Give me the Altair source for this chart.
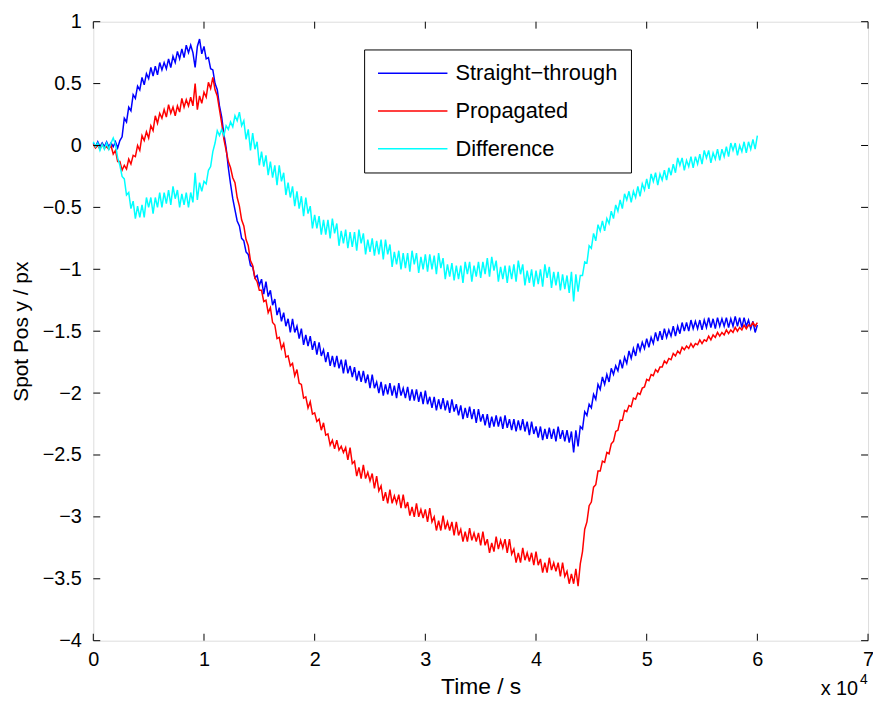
import altair as alt
import pandas as pd

# time grid in units of 1e4 s
time = [round(0.02 * i, 2) for i in range(301)]

straight = [
    0.02, -0.01, 0.03, -0.01, 0.02, -0.01, 0.03, -0.01, 0.02, -0.01,
    0.03, -0.02, 0.04, 0.07, 0.22, 0.19, 0.31, 0.28, 0.41, 0.38,
    0.48, 0.45, 0.55, 0.49, 0.58, 0.54, 0.63, 0.56, 0.64, 0.57,
    0.67, 0.61, 0.67, 0.62, 0.70, 0.63, 0.72, 0.67, 0.76, 0.70,
    0.78, 0.71, 0.81, 0.75, 0.81, 0.75, 0.63, 0.80, 0.86, 0.74,
    0.80, 0.70, 0.71, 0.62, 0.61, 0.50, 0.45, 0.32, 0.23, 0.09,
    -0.02, -0.18, -0.31, -0.43, -0.52, -0.61, -0.65, -0.75, -0.77, -0.86,
    -0.88, -0.97, -0.98, -1.07, -1.05, -1.13, -1.08, -1.20, -1.10, -1.22,
    -1.17, -1.29, -1.24, -1.37, -1.31, -1.42, -1.35, -1.46, -1.40, -1.51,
    -1.40, -1.51, -1.46, -1.56, -1.48, -1.61, -1.53, -1.62, -1.54, -1.65,
    -1.58, -1.69, -1.59, -1.70, -1.65, -1.75, -1.67, -1.78, -1.70, -1.79,
    -1.70, -1.80, -1.73, -1.84, -1.73, -1.84, -1.78, -1.87, -1.79, -1.90,
    -1.82, -1.91, -1.82, -1.92, -1.85, -1.96, -1.85, -1.96, -1.91, -2.00,
    -1.91, -2.02, -1.93, -2.01, -1.92, -2.02, -1.94, -2.04, -1.92, -2.02,
    -1.96, -2.04, -1.95, -2.06, -1.97, -2.06, -1.97, -2.07, -1.99, -2.09,
    -1.98, -2.09, -2.03, -2.12, -2.03, -2.14, -2.05, -2.13, -2.04, -2.14,
    -2.06, -2.16, -2.05, -2.15, -2.09, -2.18, -2.10, -2.21, -2.12, -2.20,
    -2.11, -2.21, -2.13, -2.24, -2.13, -2.23, -2.17, -2.26, -2.17, -2.28,
    -2.19, -2.27, -2.18, -2.27, -2.19, -2.29, -2.18, -2.28, -2.21, -2.30,
    -2.21, -2.31, -2.22, -2.30, -2.21, -2.31, -2.23, -2.34, -2.23, -2.33,
    -2.27, -2.36, -2.27, -2.38, -2.29, -2.37, -2.28, -2.37, -2.29, -2.39,
    -2.27, -2.37, -2.30, -2.39, -2.30, -2.40, -2.31, -2.48, -2.30, -2.43,
    -2.27, -2.29, -2.15, -2.18, -2.09, -2.12, -2.01, -2.05, -1.93, -1.97,
    -1.87, -1.93, -1.85, -1.91, -1.80, -1.85, -1.78, -1.82, -1.73, -1.80,
    -1.71, -1.76, -1.66, -1.72, -1.64, -1.70, -1.60, -1.66, -1.59, -1.64,
    -1.56, -1.63, -1.55, -1.60, -1.51, -1.58, -1.50, -1.57, -1.48, -1.55,
    -1.49, -1.54, -1.46, -1.54, -1.46, -1.52, -1.43, -1.50, -1.43, -1.50,
    -1.41, -1.48, -1.42, -1.48, -1.41, -1.49, -1.41, -1.47, -1.39, -1.47,
    -1.40, -1.48, -1.39, -1.46, -1.40, -1.46, -1.39, -1.47, -1.40, -1.46,
    -1.38, -1.46, -1.39, -1.47, -1.39, -1.46, -1.41, -1.48, -1.42, -1.51,
    -1.45,
]

propagated = [
    0.01, -0.02, 0.00, -0.03, 0.01, -0.02, -0.01, -0.03, 0.00, -0.07,
    -0.04, -0.13, -0.13, -0.20, -0.16, -0.19, -0.11, -0.15, -0.08, -0.09,
    0.00, -0.04, 0.08, 0.04, 0.11, 0.06, 0.16, 0.12, 0.24, 0.18,
    0.26, 0.22, 0.29, 0.23, 0.33, 0.26, 0.31, 0.24, 0.32, 0.27,
    0.38, 0.31, 0.37, 0.32, 0.39, 0.32, 0.50, 0.29, 0.40, 0.34,
    0.43, 0.39, 0.51, 0.46, 0.55, 0.45, 0.40, 0.29, 0.18, 0.05,
    -0.04, -0.13, -0.18, -0.26, -0.30, -0.42, -0.49, -0.60, -0.65, -0.76,
    -0.81, -0.93, -0.97, -1.07, -1.10, -1.17, -1.17, -1.26, -1.25, -1.35,
    -1.31, -1.43, -1.45, -1.56, -1.55, -1.64, -1.60, -1.71, -1.70, -1.78,
    -1.76, -1.86, -1.81, -1.92, -1.93, -2.04, -2.03, -2.12, -2.07, -2.17,
    -2.16, -2.23, -2.21, -2.30, -2.24, -2.34, -2.33, -2.42, -2.38, -2.45,
    -2.38, -2.46, -2.43, -2.48, -2.44, -2.54, -2.44, -2.57, -2.55, -2.67,
    -2.60, -2.69, -2.58, -2.69, -2.64, -2.71, -2.65, -2.77, -2.67, -2.79,
    -2.75, -2.87, -2.80, -2.89, -2.78, -2.89, -2.83, -2.89, -2.82, -2.93,
    -2.82, -2.93, -2.88, -2.99, -2.92, -3.00, -2.89, -3.00, -2.94, -3.01,
    -2.94, -3.04, -2.93, -3.04, -3.00, -3.11, -3.03, -3.11, -2.99, -3.10,
    -3.04, -3.11, -3.04, -3.15, -3.04, -3.15, -3.10, -3.20, -3.12, -3.20,
    -3.09, -3.19, -3.13, -3.20, -3.13, -3.23, -3.12, -3.23, -3.18, -3.29,
    -3.21, -3.28, -3.16, -3.26, -3.19, -3.25, -3.18, -3.29, -3.18, -3.30,
    -3.26, -3.37, -3.29, -3.37, -3.25, -3.35, -3.29, -3.36, -3.29, -3.39,
    -3.28, -3.39, -3.34, -3.45, -3.37, -3.45, -3.33, -3.43, -3.37, -3.44,
    -3.37, -3.48, -3.37, -3.48, -3.44, -3.54, -3.46, -3.54, -3.42, -3.56,
    -3.38, -3.28, -3.10, -3.04, -2.91, -2.88, -2.76, -2.74, -2.63, -2.63,
    -2.55, -2.56, -2.48, -2.49, -2.41, -2.39, -2.31, -2.30, -2.22, -2.22,
    -2.14, -2.15, -2.10, -2.11, -2.04, -2.05, -2.00, -2.01, -1.96, -1.95,
    -1.89, -1.90, -1.85, -1.86, -1.81, -1.83, -1.79, -1.79, -1.74, -1.76,
    -1.72, -1.73, -1.68, -1.70, -1.66, -1.68, -1.63, -1.65, -1.62, -1.64,
    -1.60, -1.63, -1.60, -1.61, -1.57, -1.60, -1.57, -1.58, -1.54, -1.57,
    -1.53, -1.55, -1.51, -1.54, -1.51, -1.53, -1.49, -1.52, -1.49, -1.51,
    -1.47, -1.50, -1.47, -1.49, -1.45, -1.48, -1.45, -1.46, -1.43, -1.46,
    -1.43,
]

difference = [
    0.03, -0.01, 0.02, -0.04, 0.01, -0.03, 0.02, -0.03, 0.02, 0.06,
    0.01, -0.10, -0.16, -0.25, -0.27, -0.40, -0.38, -0.51, -0.45, -0.59,
    -0.49, -0.58, -0.48, -0.58, -0.42, -0.50, -0.42, -0.55, -0.42, -0.50,
    -0.38, -0.50, -0.38, -0.47, -0.36, -0.48, -0.33, -0.43, -0.36, -0.50,
    -0.39, -0.48, -0.38, -0.50, -0.38, -0.46, -0.22, -0.44, -0.30, -0.37,
    -0.29, -0.31, -0.20, -0.17, -0.05, 0.02, 0.12, 0.08, 0.13, 0.08,
    0.16, 0.13, 0.19, 0.15, 0.24, 0.20, 0.27, 0.16, 0.20, 0.05,
    0.13, -0.04, 0.10, -0.03, 0.03, -0.16, -0.05, -0.17, -0.08, -0.24,
    -0.13, -0.26, -0.16, -0.32, -0.16, -0.29, -0.22, -0.40, -0.30, -0.42,
    -0.33, -0.49, -0.37, -0.51, -0.41, -0.57, -0.42, -0.55, -0.49, -0.67,
    -0.56, -0.67, -0.57, -0.72, -0.60, -0.72, -0.60, -0.75, -0.59, -0.71,
    -0.63, -0.81, -0.69, -0.79, -0.68, -0.83, -0.70, -0.82, -0.70, -0.85,
    -0.68, -0.79, -0.71, -0.88, -0.76, -0.86, -0.75, -0.89, -0.77, -0.88,
    -0.76, -0.92, -0.76, -0.88, -0.80, -0.98, -0.86, -0.96, -0.85, -1.00,
    -0.87, -0.99, -0.87, -1.02, -0.85, -0.96, -0.87, -1.03, -0.90, -1.00,
    -0.88, -1.02, -0.88, -1.00, -0.89, -1.04, -0.87, -0.99, -0.91, -1.08,
    -0.96, -1.06, -0.95, -1.09, -0.97, -1.08, -0.97, -1.11, -0.94, -1.04,
    -0.94, -1.10, -0.97, -1.06, -0.94, -1.07, -0.94, -1.04, -0.91, -1.06,
    -0.90, -1.01, -0.93, -1.10, -0.98, -1.08, -0.97, -1.11, -0.97, -1.08,
    -0.96, -1.10, -0.93, -1.04, -0.96, -1.13, -1.01, -1.11, -1.00, -1.14,
    -1.01, -1.12, -1.00, -1.14, -0.96, -1.07, -0.98, -1.15, -1.02, -1.13,
    -1.02, -1.17, -1.04, -1.16, -1.05, -1.19, -1.02, -1.26, -1.04, -1.18,
    -1.05, -1.05, -0.94, -0.95, -0.81, -0.83, -0.71, -0.77, -0.64, -0.69,
    -0.61, -0.69, -0.59, -0.63, -0.53, -0.59, -0.48, -0.53, -0.44, -0.51,
    -0.39, -0.44, -0.37, -0.46, -0.37, -0.42, -0.33, -0.41, -0.31, -0.36,
    -0.27, -0.35, -0.23, -0.29, -0.22, -0.32, -0.23, -0.28, -0.20, -0.28,
    -0.18, -0.24, -0.15, -0.22, -0.10, -0.16, -0.10, -0.20, -0.12, -0.17,
    -0.09, -0.18, -0.09, -0.15, -0.07, -0.15, -0.04, -0.10, -0.04, -0.14,
    -0.06, -0.11, -0.03, -0.12, -0.03, -0.09, -0.01, -0.09, 0.02, -0.04,
    0.02, -0.08, 0.00, -0.05, 0.03, -0.06, 0.03, -0.03, 0.05, -0.03,
    0.08,
]

series_names = ["Straight\u2212through", "Propagated", "Difference"]
series_colors = ["#0000ff", "#ff0000", "#00ffff"]
x_ticks = [0, 1, 2, 3, 4, 5, 6, 7]
y_ticks = [1, 0.5, 0, -0.5, -1, -1.5, -2, -2.5, -3, -3.5, -4]

W, H = 781, 624
FONT = "Liberation Sans"

x_scale = alt.Scale(domain=[0, 7], nice=False, zero=False)
y_scale = alt.Scale(domain=[-4, 1], nice=False, zero=False)

color_scale = alt.Scale(domain=series_names, range=series_colors)
legend = alt.Legend(
    orient="none", legendX=273, legendY=28, title=None, padding=13,
    symbolType="M-3.5,0H3.5", symbolSize=400, symbolStrokeWidth=1.5,
    symbolOffset=25, symbolFillColor="transparent",
    labelFontSize=22, labelFont=FONT, labelColor="black",
    rowPadding=16, labelOffset=32, labelLimit=400,
    strokeColor="black", fillColor="white", cornerRadius=0,
)

x_axis = alt.Axis(
    values=x_ticks, format="d", title="Time / s", grid=False, ticks=False,
    domain=False, labelFontSize=20, labelPadding=9, labelFlush=False,
    titleFontSize=23, titleFontWeight="normal", titleY=46, titleBaseline="middle",
    labelColor="black", titleColor="black", labelFont=FONT, titleFont=FONT,
)
y_axis = alt.Axis(
    values=y_ticks, format=".1~f", title="Spot Pos y / px", grid=False,
    ticks=False, domain=False, labelFontSize=20, labelPadding=12, labelFlush=False,
    titleFontSize=21, titleFontWeight="normal", titleX=-72,
    titleBaseline="middle", labelColor="black", titleColor="black",
    labelFont=FONT, titleFont=FONT,
)


def series_layer(values, name):
    n = min(len(time), len(values))
    df = pd.DataFrame({"t": time[:n], "v": values[:n], "series": name})
    return alt.Chart(df).mark_line(strokeWidth=1.5).encode(
        x=alt.X("t:Q", scale=x_scale, axis=x_axis),
        y=alt.Y("v:Q", scale=y_scale, axis=y_axis),
        color=alt.Color("series:N", scale=color_scale, legend=legend, sort=series_names),
    )


blue = series_layer(straight, series_names[0])
red = series_layer(propagated, series_names[1])
cyan = series_layer(difference, series_names[2])

xt = pd.DataFrame({"t": x_ticks})
yt = pd.DataFrame({"v": y_ticks})
tick_len = 7
ticks_bottom = alt.Chart(xt).mark_rule(color="black", strokeWidth=1).encode(
    x=alt.X("t:Q", scale=x_scale, axis=x_axis), y=alt.value(H), y2=alt.value(H - tick_len))
ticks_top = alt.Chart(xt).mark_rule(color="black", strokeWidth=1).encode(
    x=alt.X("t:Q", scale=x_scale, axis=x_axis), y=alt.value(0), y2=alt.value(tick_len))
ticks_left = alt.Chart(yt).mark_rule(color="black", strokeWidth=1).encode(
    y=alt.Y("v:Q", scale=y_scale, axis=y_axis), x=alt.value(0), x2=alt.value(tick_len))
ticks_right = alt.Chart(yt).mark_rule(color="black", strokeWidth=1).encode(
    y=alt.Y("v:Q", scale=y_scale, axis=y_axis), x=alt.value(W), x2=alt.value(W - tick_len))

exp_base = alt.Chart(pd.DataFrame({"txt": ["x 10"]})).mark_text(
    align="right", baseline="middle", fontSize=20, font=FONT, color="black"
).encode(text="txt:N", x=alt.value(771), y=alt.value(673))
exp_sup = alt.Chart(pd.DataFrame({"txt": ["4"]})).mark_text(
    align="left", baseline="middle", fontSize=14, font=FONT, color="black"
).encode(text="txt:N", x=alt.value(773), y=alt.value(664))

chart = alt.layer(
    blue, red, cyan, ticks_bottom, ticks_top, ticks_left, ticks_right, exp_base, exp_sup
).properties(
    width=W, height=H,
    autosize=alt.AutoSizeParams(type="none"),
    padding={"left": 86, "top": 11, "right": 5, "bottom": 58},
    background="white",
).configure_view(
    stroke="black", strokeWidth=1.2
).configure(font=FONT)

chart.save("out.html", embed_options={"renderer": "svg", "actions": False})
